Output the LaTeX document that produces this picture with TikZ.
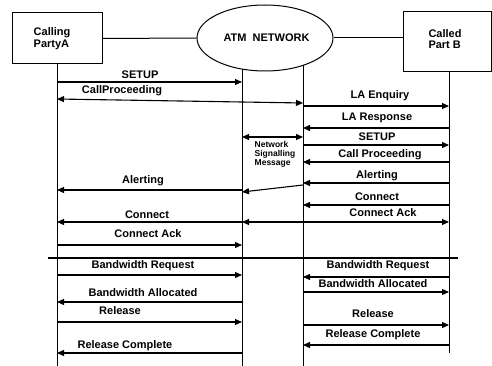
\documentclass[tikz,border=0pt]{standalone}
\usepackage{fontspec}
\setmainfont{Liberation Sans}
\usetikzlibrary{arrows.meta,shapes.geometric,backgrounds}
\begin{document}
\begin{tikzpicture}[x=1pt,y=-1pt,
  every node/.style={font=\fontsize{11}{11.5}\selectfont\bfseries},
  party/.style={draw,line width=1pt,inner sep=0pt},
  tip/.style={-{Triangle[length=7pt,width=6pt]}},
  msg/.style={line width=1.1pt,tip},
  msgboth/.style={line width=1.1pt,{Triangle[length=7pt,width=6pt]}-{Triangle[length=7pt,width=6pt]}},
  lbl/.style={inner sep=0.5pt},
  life/.style={line width=0.9pt}]
\useasboundingbox (0,0) rectangle (492,366);

% parties and network
\node[party, minimum width=90pt, minimum height=51pt] (pa) at (57,38.5) {};
\node[lbl, align=left, anchor=west] (pat) at (33,38.5) {Calling\\PartyA};
\node[party, minimum width=88pt, minimum height=60pt] (pb) at (447,42) {};
\node[lbl, align=left] (pbt) at (445,39) {Called\\Part B};
\node[draw, ellipse, line width=1pt, minimum width=136pt, minimum height=66pt,
      inner sep=0pt, fill=white] (net) at (265,38) {\hspace{3pt}ATM\ \ NETWORK};
\draw[line width=1pt] (pa.east) -- (net.west);
\draw[line width=1pt] (net.east) -- (net.east -| pb.west);

% lifeline positions
\coordinate (la) at (57,0);
\coordinate (nl) at (242,0);
\coordinate (nr) at (303,0);
\coordinate (lb) at (449,0);

\begin{scope}[on background layer]
  \draw[life] (pa.south -| la) -- (la |- 0,366);
  \draw[life] (nl |- net.center) -- (nl |- 0,366);
  \draw[life] (nr |- net.center) -- (nr |- 0,366);
  \draw[life] (pb.south -| lb) -- (lb |- 0,353);
\end{scope}

% call set-up
\draw[msg] (la |- 0,82) -- (nl |- 0,82);
\node[lbl] (l1) at (140,75) {SETUP};
\draw[msgboth] (la |- 0,99) -- (nr |- 0,103);
\node[lbl] (l2) at (122,91) {CallProceeding};
\draw[msg] (nr |- 0,106) -- (lb |- 0,106);
\node[lbl] (l3) at (380,96) {LA Enquiry};
\draw[msg] (lb |- 0,128) -- (nr |- 0,128);
\node[lbl] (l4) at (377,118) {LA Response};
\draw[msgboth] (nl |- 0,137) -- (nr |- 0,137);
\node[lbl, align=left, font=\fontsize{8.5}{9}\selectfont\bfseries] (l5) at (275,154) {Network\\Signalling\\Message};
\draw[msg] (nr |- 0,145) -- (lb |- 0,145);
\node[lbl] (l6) at (377,137) {SETUP};
\draw[msg] (lb |- 0,162) -- (nr |- 0,162);
\node[lbl] (l7) at (380,155) {Call Proceeding};
\draw[msg] (lb |- 0,183) -- (nr |- 0,183);
\node[lbl] (l8) at (377,176) {Alerting};
\draw[msg] (nr |- 0,185) -- (nl |- 0,192);
\draw[msg] (nl |- 0,190) -- (la |- 0,190);
\node[lbl] (l9) at (143,181) {Alerting};
\draw[msg] (lb |- 0,205) -- (nr |- 0,205);
\node[lbl] (l10) at (377,197) {Connect};
\draw[msgboth] (nl |- 0,222) -- (lb |- 0,222);
\node[lbl] (l11) at (383,213) {Connect Ack};
\draw[msg] (nl |- 0,222) -- (la |- 0,222);
\node[lbl] (l12) at (147,215) {Connect};
\draw[msg] (la |- 0,245) -- (nl |- 0,245);
\node[lbl] (l13) at (148,234) {Connect Ack};

% separator
\coordinate (sepL) at (48,258);
\coordinate (sepR) at (458,258);
\draw[line width=2pt] (sepL) -- (sepR);

% bandwidth and release
\draw[msg] (la |- 0,275) -- (nl |- 0,275);
\node[lbl] (l14) at (143,266) {Bandwidth Request};
\draw[msg] (nl |- 0,302) -- (la |- 0,302);
\node[lbl] (l15) at (143,293) {Bandwidth Allocated};
\draw[msg] (la |- 0,322) -- (nl |- 0,322);
\node[lbl] (l16) at (120,311) {Release};
\draw[msg] (nl |- 0,353) -- (la |- 0,353);
\node[lbl] (l17) at (125,346) {Release Complete};
\draw[msg] (lb |- 0,277) -- (nr |- 0,277);
\node[lbl] (l18) at (378,266) {Bandwidth Request};
\draw[msg] (nr |- 0,292) -- (lb |- 0,292);
\node[lbl] (l19) at (373,284) {Bandwidth Allocated};
\draw[msg] (nr |- 0,325) -- (lb |- 0,325);
\node[lbl] (l20) at (373,314) {Release};
\draw[msg] (lb |- 0,345) -- (nr |- 0,345);
\node[lbl] (l21) at (373,335) {Release Complete};
\end{tikzpicture}
\end{document}
